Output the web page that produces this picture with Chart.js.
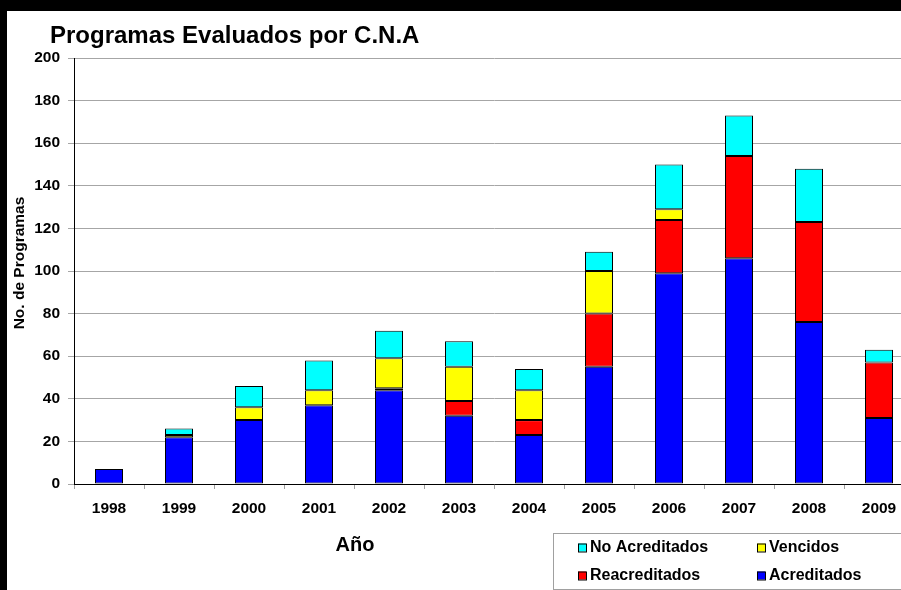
<!DOCTYPE html>
<html>
<head>
<meta charset="utf-8">
<script src="https://cdn.jsdelivr.net/npm/chart.js@4/dist/chart.umd.min.js"></script>
<style>
  html, body { margin: 0; padding: 0; background: #000; overflow: hidden; }
  #panel { position: absolute; left: 7px; top: 11px; width: 894px; height: 579px; background: #fff; overflow: hidden; }
  canvas { display: block; }
</style>
</head>
<body>
<div id="panel"><canvas id="c" width="930" height="579" style="width:930px;height:579px"></canvas></div>
<script>
const years = ['1998','1999','2000','2001','2002','2003','2004','2005','2006','2007','2008','2009'];
const acreditados   = [7, 22, 30, 37, 44, 32, 23, 55, 99, 106, 76, 31];
const reacreditados = [0, 0, 0, 0, 1, 7, 7, 25, 25, 48, 47, 26];
const vencidos      = [0, 1, 6, 7, 14, 16, 14, 20, 5, 0, 0, 0];
const noAcreditados = [0, 3, 10, 14, 13, 12, 10, 9, 21, 19, 25, 6];
const yTicks = [0, 20, 40, 60, 80, 100, 120, 140, 160, 180, 200];
const chartTitle = 'Programas Evaluados por C.N.A';
const xTitle = 'Año';
const yTitle = 'No. de Programas';

const FONT = 'Liberation Sans, Arial, sans-serif';

function ds(label, data, color) {
  return { label, data, backgroundColor: color, borderColor: '#000', borderWidth: 1,
           borderSkipped: false, inflateAmount: 0, barPercentage: 0.4, categoryPercentage: 1.0 };
}

const extras = {
  id: 'extras',
  afterDraw(chart) {
    const ctx = chart.ctx;
    ctx.save();
    ctx.fillStyle = '#000';
    ctx.textAlign = 'left';
    ctx.textBaseline = 'alphabetic';
    ctx.font = 'bold 24px ' + FONT;
    ctx.fillText(chartTitle, 43, 31.5);
    ctx.textAlign = 'center';
    ctx.font = 'bold 20px ' + FONT;
    ctx.fillText(xTitle, 348, 539.5);
    // y title
    ctx.save();
    ctx.translate(13, 252);
    ctx.rotate(-Math.PI / 2);
    ctx.textBaseline = 'middle';
    ctx.font = 'bold 15.5px ' + FONT;
    ctx.fillText(yTitle, 0, 0);
    ctx.restore();
    // legend box
    ctx.strokeStyle = '#a0a0a0';
    ctx.lineWidth = 1;
    ctx.strokeRect(546.5, 522.5, 400, 56);
    const order = [3, 2, 1, 0];
    const colX = [571, 750];
    const rowY = [536.5, 564.5];
    ctx.font = 'bold 16px ' + FONT;
    ctx.textAlign = 'left';
    ctx.textBaseline = 'middle';
    order.forEach((di, k) => {
      const d = chart.data.datasets[di];
      const x = colX[k % 2], y = rowY[Math.floor(k / 2)];
      ctx.fillStyle = d.backgroundColor;
      ctx.fillRect(x, y - 4, 8, 8);
      ctx.strokeStyle = '#000';
      ctx.strokeRect(x + 0.5, y - 3.5, 8, 8);
      ctx.fillStyle = '#000';
      ctx.fillText(d.label, x + 12, y + 0.5);
    });
    ctx.restore();
  }
};

new Chart(document.getElementById('c'), {
  type: 'bar',
  data: {
    labels: years,
    datasets: [
      ds('Acreditados', acreditados, '#0000FF'),
      ds('Reacreditados', reacreditados, '#FF0000'),
      ds('Vencidos', vencidos, '#FFFF00'),
      ds('No Acreditados', noAcreditados, '#00FFFF')
    ]
  },
  options: {
    responsive: false,
    devicePixelRatio: 1,
    animation: false,
    layout: { padding: { left: 0, top: 47, right: 23, bottom: 0 } },
    plugins: { legend: { display: false }, title: { display: false }, tooltip: { enabled: false } },
    scales: {
      x: {
        stacked: true,
        offset: true,
        grid: { offset: true, drawOnChartArea: false, tickLength: 5, color: '#a0a0a0', tickColor: '#a0a0a0' },
        border: { color: '#000', width: 1 },
        ticks: { color: '#000', font: { family: FONT, size: 15.5, weight: 'bold' }, padding: 10, maxRotation: 0, autoSkip: false },
        afterFit(s) { s.height = 106; }
      },
      y: {
        stacked: true,
        min: 0, max: 200,
        afterBuildTicks(s) { s.ticks = yTicks.map(v => ({ value: v })); },
        grid: { color: '#a6a6a6', tickLength: 6, tickColor: '#a6a6a6' },
        border: { color: '#000', width: 1 },
        ticks: { color: '#000', font: { family: FONT, size: 15.5, weight: 'bold' }, padding: 8 },
        afterFit(s) { s.width = 67; }
      }
    }
  },
  plugins: [extras]
});
</script>
</body>
</html>
